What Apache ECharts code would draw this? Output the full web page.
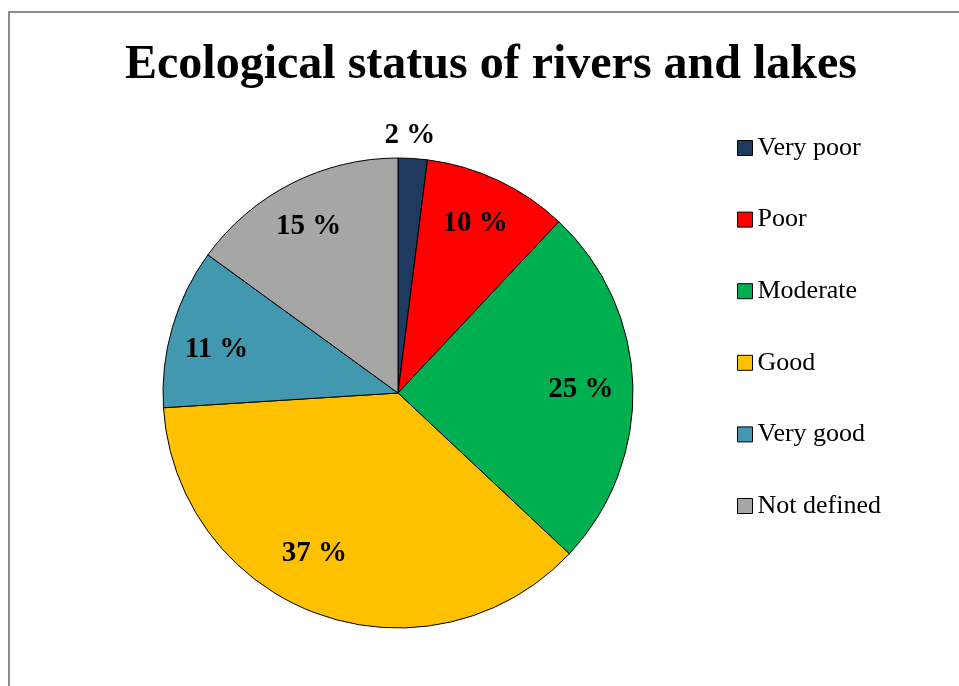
<!DOCTYPE html>
<html>
<head>
<meta charset="utf-8">
<script src="https://cdn.jsdelivr.net/npm/echarts@6/dist/echarts.min.js"></script>
<style>
html,body{margin:0;padding:0;background:#fff;}
#chart{width:959px;height:686px;}
</style>
</head>
<body>
<div id="chart"></div>
<script>
var titleText = 'Ecological status of rivers and lakes';
var categories = ['Very poor', 'Poor', 'Moderate', 'Good', 'Very good', 'Not defined'];
var values = [2, 10, 25, 37, 11, 15];
var colors = ['#1F3A5F', '#FF0000', '#00B050', '#FFC000', '#4198AF', '#A6A6A6'];
var labelOffsets = [[0, -70], [-3, 1], [-5, 2], [-20, -16], [-1, 9], [-4, 1]];

var serif = '"Liberation Serif", "Times New Roman", serif';

var mainData = categories.map(function (c, i) {
  return { name: c, value: values[i], itemStyle: { color: colors[i] } };
});
var labelData = categories.map(function (c, i) {
  return { name: c, value: values[i], label: { offset: labelOffsets[i] } };
});

var chart = echarts.init(document.getElementById('chart'), null, { renderer: 'canvas' });
chart.setOption({
  backgroundColor: '#fff',
  animation: false,
  title: {
    text: titleText,
    left: 486,
    textAlign: 'center',
    top: 37,
    textStyle: { fontFamily: serif, fontWeight: 'bold', fontSize: 48, color: '#000' }
  },
  legend: {
    orient: 'vertical',
    left: 732,
    top: 130,
    itemWidth: 15,
    itemHeight: 15,
    itemGap: 45.6,
    icon: 'rect',
    data: categories,
    itemStyle: { borderColor: '#000', borderWidth: 1 },
    textStyle: { fontFamily: serif, fontSize: 26, color: '#000', lineHeight: 26 }
  },
  graphic: [{
    type: 'rect',
    shape: { x: 9, y: 12, width: 1000, height: 800 },
    style: { fill: 'none', stroke: '#8c8c8c', lineWidth: 2 },
    silent: true
  }],
  series: [{
    type: 'pie',
    center: [398, 393],
    radius: [0, 235],
    startAngle: 90,
    clockwise: true,
    silent: true,
    label: { show: false },
    labelLine: { show: false },
    itemStyle: { borderColor: '#000', borderWidth: 1 },
    data: mainData
  }, {
    type: 'pie',
    center: [398, 393],
    radius: [135, 235],
    startAngle: 90,
    clockwise: true,
    silent: true,
    itemStyle: { color: 'rgba(0,0,0,0)', borderWidth: 0 },
    label: {
      show: true,
      position: 'inside',
      formatter: '{c} %',
      fontFamily: serif,
      fontWeight: 'bold',
      fontSize: 29,
      color: '#000'
    },
    labelLine: { show: false },
    data: labelData
  }]
});
</script>
</body>
</html>
